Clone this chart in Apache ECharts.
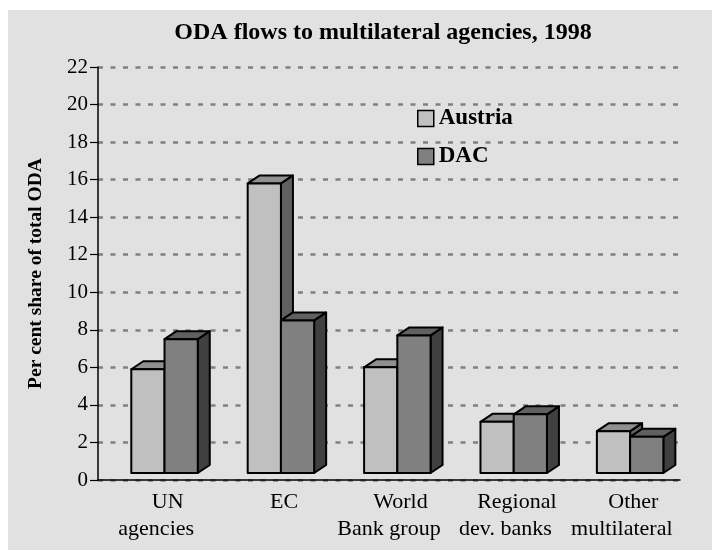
<!DOCTYPE html>
<html>
<head>
<meta charset="utf-8">
<script src="https://cdn.jsdelivr.net/npm/echarts@6/dist/echarts.min.js"></script>
<style>
  html, body { margin: 0; padding: 0; background: #ffffff; }
  #bg { position: absolute; left: 8px; top: 10px; width: 704px; height: 540px; background: #e1e1e1; }
  #chart { position: absolute; left: 0; top: 0; width: 712px; height: 550px; }
</style>
</head>
<body>
<div id="bg"></div>
<div id="chart"></div>
<script>
// ---- data ----
var categoryLine1 = ['UN', 'EC', 'World', 'Regional', 'Other'];
var categoryLine2 = ['agencies', '', 'Bank group', 'dev. banks', 'multilateral'];
var seriesNames = ['Austria', 'DAC'];
var austriaValues = [5.9, 15.8, 6.0, 3.1, 2.6];
var dacValues = [7.5, 8.5, 7.7, 3.5, 2.3];
var yTicks = { min: 0, max: 22, interval: 2 };
var titleText = 'ODA flows to multilateral agencies, 1998';
var yAxisTitle = 'Per cent share of total ODA';

// ---- styles ----
var FONT = "'Liberation Serif', 'Times New Roman', serif";
var palettes = [
  { front: '#c0c0c0', top: '#909090', side: '#606060' },
  { front: '#808080', top: '#606060', side: '#404040' }
];
var DEPTH_X = 12, DEPTH_Y = 8, LIFT = 7;
var OFFSETS = [0.286, 0.5715];
var BAR_FRAC = 0.2855;

var categories = categoryLine1.map(function (c, i) { return i; });

function makeRender(seriesIdx) {
  var pal = palettes[seriesIdx];
  return function (params, api) {
    var idx = api.value(0);
    var val = api.value(1);
    var c0 = api.coord([idx, 0]);
    var cv = api.coord([idx, val]);
    var bw = api.size([1, 0])[0];
    var bandStart = c0[0] - bw / 2;
    var x0 = bandStart + OFFSETS[seriesIdx] * bw;
    var w = BAR_FRAC * bw;
    var yb = c0[1] - LIFT;
    var yt = cv[1];
    var stroke = { stroke: '#000', lineWidth: 2, lineJoin: 'round' };
    return {
      type: 'group',
      children: [
        { type: 'polygon', shape: { points: [[x0 + w, yb], [x0 + w + DEPTH_X, yb - DEPTH_Y], [x0 + w + DEPTH_X, yt - DEPTH_Y], [x0 + w, yt]] },
          style: Object.assign({ fill: pal.side }, stroke) },
        { type: 'polygon', shape: { points: [[x0, yt], [x0 + DEPTH_X, yt - DEPTH_Y], [x0 + w + DEPTH_X, yt - DEPTH_Y], [x0 + w, yt]] },
          style: Object.assign({ fill: pal.top }, stroke) },
        { type: 'rect', shape: { x: x0, y: yt, width: w, height: yb - yt },
          style: Object.assign({ fill: pal.front }, stroke) }
      ]
    };
  };
}

var chart = echarts.init(document.getElementById('chart'), null, { renderer: 'canvas' });
chart.setOption({
  backgroundColor: 'transparent',
  animation: false,
  graphic: [{
    type: 'text', x: 383, y: 33,
    style: { text: titleText, font: 'bold 24px ' + FONT, fill: '#000', textAlign: 'center', textVerticalAlign: 'middle' }
  }],
  legend: {
    orient: 'vertical', left: 412, top: 102, itemWidth: 16, itemHeight: 16, itemGap: 15,
    icon: 'rect',
    data: [
      { name: seriesNames[0], itemStyle: { color: palettes[0].front, borderColor: '#000', borderWidth: 1.5 } },
      { name: seriesNames[1], itemStyle: { color: palettes[1].front, borderColor: '#000', borderWidth: 1.5 } }
    ],
    textStyle: { fontFamily: FONT, fontWeight: 'bold', fontSize: 23, color: '#000', padding: [0, 0, 0, 0] }
  },
  grid: { left: 98, right: 32, top: 67, bottom: 70, containLabel: false },
  xAxis: {
    type: 'category',
    data: categories,
    boundaryGap: true,
    axisLine: { lineStyle: { color: '#000', width: 1.5 } },
    axisTick: { inside: true, length: 7, lineStyle: { color: '#000', width: 1.2 } },
    axisLabel: {
      margin: 9,
      interval: 0,
      formatter: function (v) {
        var i = Number(v);
        var s = '{a|' + categoryLine1[i] + '}';
        if (categoryLine2[i]) s += '\n{b|' + categoryLine2[i] + '}';
        return s;
      },
      rich: {
        a: { fontFamily: FONT, fontSize: 22, lineHeight: 27, color: '#000', padding: [0, 0, 0, 23] },
        b: { fontFamily: FONT, fontSize: 22, lineHeight: 27, color: '#000' }
      }
    },
    splitLine: { show: false }
  },
  yAxis: {
    type: 'value',
    min: yTicks.min, max: yTicks.max, interval: yTicks.interval,
    name: yAxisTitle,
    nameLocation: 'middle',
    nameGap: 52,
    nameRotate: 90,
    nameTextStyle: { fontFamily: FONT, fontWeight: 'bold', fontSize: 19.5, color: '#000' },
    axisLine: { show: true, lineStyle: { color: '#000', width: 1.5 } },
    axisTick: { show: true, inside: false, length: 8, lineStyle: { color: '#000', width: 1.2 } },
    axisLabel: { fontFamily: FONT, fontSize: 21, color: '#000', margin: 10 },
    splitLine: { show: true, lineStyle: { color: '#808080', width: 2.5, type: [5, 7.5] } }
  },
  series: [
    {
      name: seriesNames[0], type: 'custom', renderItem: makeRender(0),
      itemStyle: { color: palettes[0].front },
      encode: { x: 0, y: 1 },
      data: austriaValues.map(function (v, i) { return [i, v]; })
    },
    {
      name: seriesNames[1], type: 'custom', renderItem: makeRender(1),
      itemStyle: { color: palettes[1].front },
      encode: { x: 0, y: 1 },
      data: dacValues.map(function (v, i) { return [i, v]; })
    }
  ]
});
</script>
</body>
</html>
